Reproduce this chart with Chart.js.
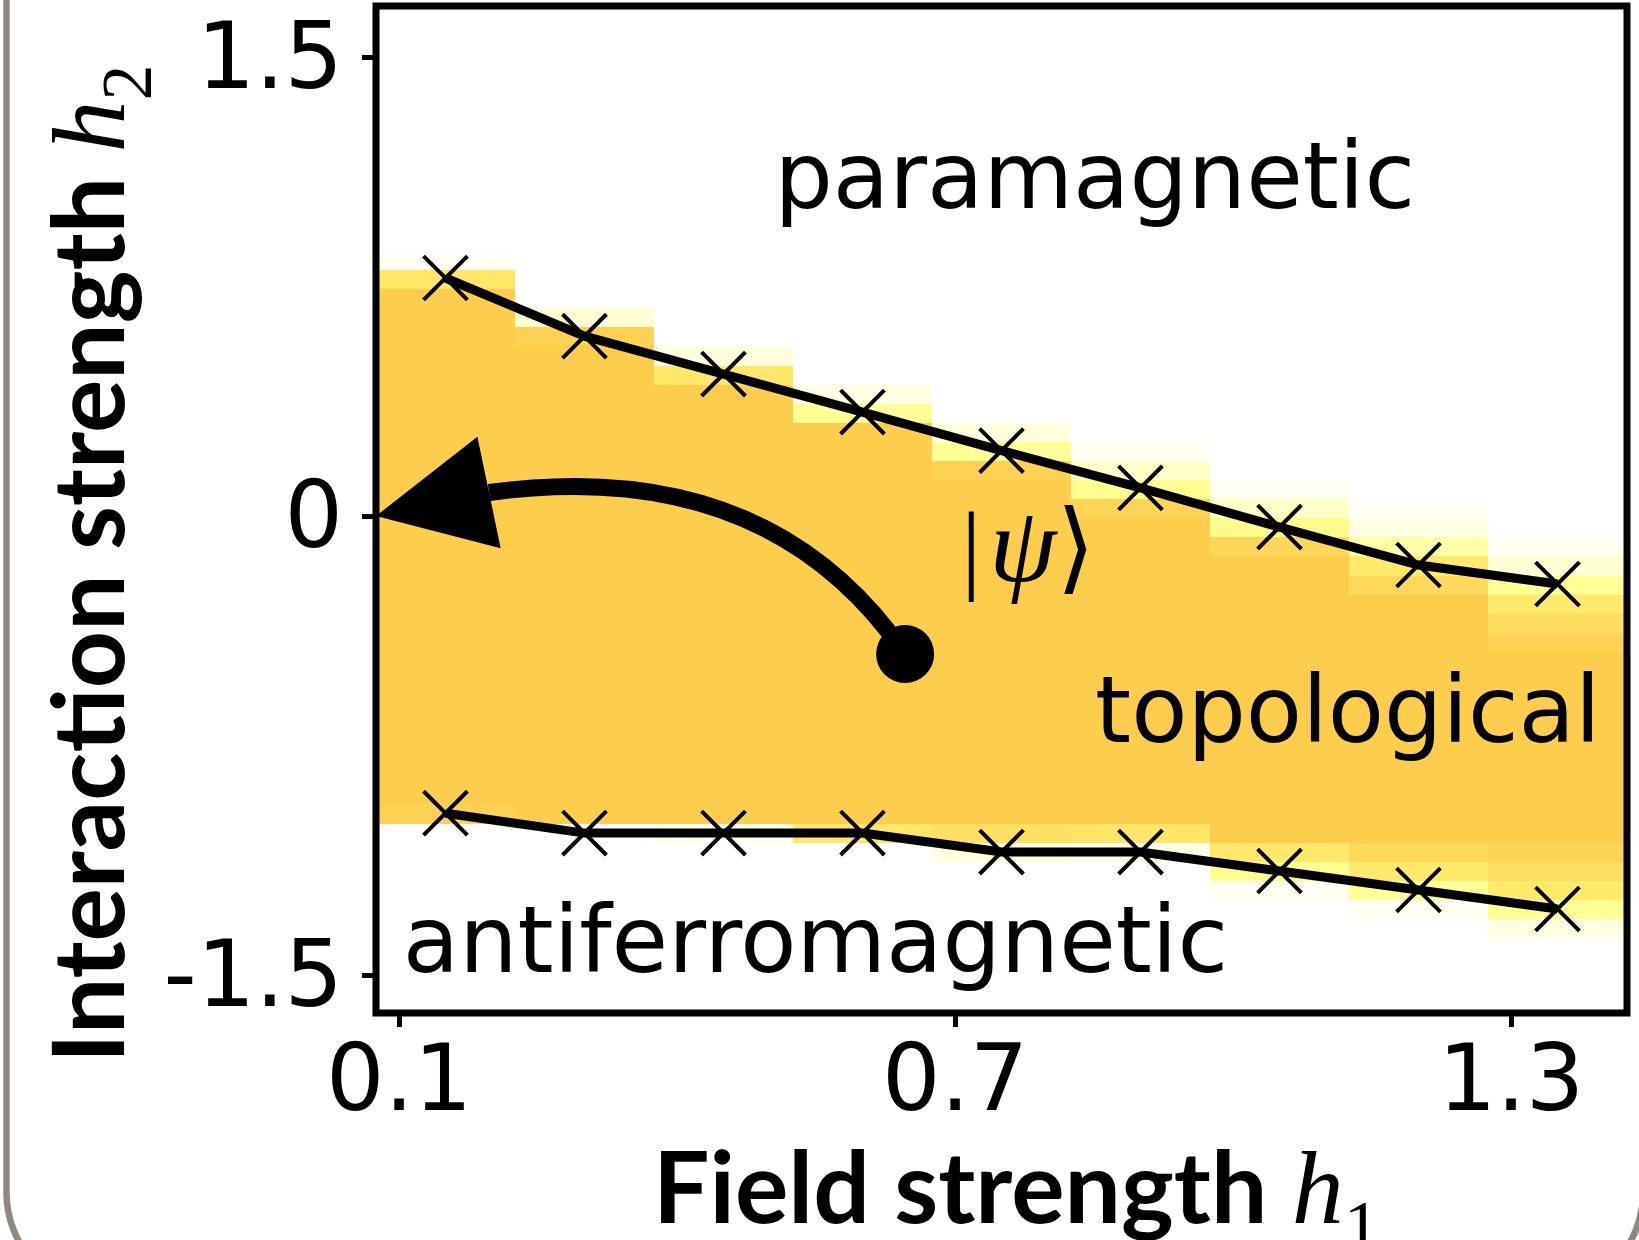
<!DOCTYPE html>
<html lang="en">
<head>
<meta charset="UTF-8">
<title>Phase diagram</title>
<script src="https://cdn.jsdelivr.net/npm/chart.js@4"></script>
<style>
    html, body { margin: 0; padding: 0; background: #fff; }
    #phaseChart { display: block; }
</style>
</head>
<body>
<canvas id="phaseChart" width="1639" height="1240"></canvas>
<script>
// values
const h1Values = [0.15, 0.30, 0.45, 0.60, 0.75, 0.90, 1.05, 1.20, 1.35];
const upperBoundary = [0.778, 0.588, 0.464, 0.340, 0.214, 0.092, -0.036, -0.160, -0.222];
const lowerBoundary = [-0.971, -1.036, -1.036, -1.036, -1.098, -1.098, -1.160, -1.222, -1.284];

const xTickValues = [0.1, 0.7, 1.3];
const xTickLabels = ['0.1', '0.7', '1.3'];
const yTickValues = [1.5, 0, -1.5];
const yTickLabels = ['1.5', '0', '-1.5'];

// heatmap grid: row k spans h2 from rowTop - k*rowStep down by one rowStep
const cellWidth = 0.15;
const rowTop = 0.804;
const rowStep = 0.0624;
// topological probability in the rows around each boundary (1 = full phase)
const upperStartRow = [-1, 2, 4, 6, 8, 9, 11, 12, 14];
const upperRamp = [
    [0.04, 0.6],
    [0.15, 0.93],
    [0.12, 0.6],
    [0.1, 0.35],
    [0.12, 0.35, 0.93],
    [0.05, 0.2, 0.38, 0.88],
    [0.05, 0.2, 0.4, 0.84],
    [0.04, 0.1, 0.3, 0.55, 0.8],
    [0.05, 0.15, 0.35, 0.55, 0.75, 0.9]
];
const lowerStartRow = [28, 29, 29, 29, 29, 29, 30, 30, 30];
const lowerRamp = [
    [0.92],
    [],
    [0.07],
    [0.6],
    [0.7, 0.12],
    [0.62, 0.1],
    [0.58, 0.38, 0.05],
    [0.8, 0.55, 0.35, 0.05],
    [0.9, 0.72, 0.55, 0.35, 0.1]
];

// state marker and arrow (h1, h2)
const stateH1 = 0.646;
const stateH2 = -0.451;
const arrowTipH1 = 0.075;
const arrowTipH2 = 0.0;
const arrowBendH1 = 0.469;
const arrowBendH2 = 0.327;

const regionLabels = ['paramagnetic', 'topological', 'antiferromagnetic'];
const regionLabelH1 = [0.505, 0.851, 0.104];
const regionLabelH2 = [1.007, -0.739, -1.490];
const psiLabelH1 = 0.7065;
const psiLabelH2 = -0.212;

// colour map white -> pale yellow -> orange
const cmapStops = [0, 0.05, 0.12, 0.2, 0.35, 0.55, 0.75, 0.9, 1];
const cmapColours = [
    [255, 255, 255], [255, 255, 242], [255, 255, 222], [255, 255, 200],
    [255, 255, 150], [255, 234, 108], [254, 220, 96], [253, 211, 85], [253, 205, 78]
];

function colourFor(v) {
    let i = 1;
    while (i < cmapStops.length - 1 && v > cmapStops[i]) i++;
    const t = (v - cmapStops[i - 1]) / (cmapStops[i] - cmapStops[i - 1]);
    const a = cmapColours[i - 1], b = cmapColours[i];
    const c = a.map((ch, j) => Math.round(ch + (b[j] - ch) * Math.max(0, Math.min(1, t))));
    return `rgb(${c[0]}, ${c[1]}, ${c[2]})`;
}

function columnCells(i) {
    const cells = [];
    upperRamp[i].forEach((v, j) => cells.push([upperStartRow[i] + j, v]));
    for (let k = upperStartRow[i] + upperRamp[i].length; k < lowerStartRow[i]; k++) cells.push([k, 1]);
    lowerRamp[i].forEach((v, j) => cells.push([lowerStartRow[i] + j, v]));
    return cells;
}

const heatmapPlugin = {
    id: 'heatmap',
    beforeDatasetsDraw(chart) {
        const { ctx, chartArea: a, scales: { x, y } } = chart;
        ctx.save();
        ctx.beginPath();
        ctx.rect(a.left, a.top, a.right - a.left, a.bottom - a.top);
        ctx.clip();
        h1Values.forEach((h1, i) => {
            const x0 = Math.round(x.getPixelForValue(h1 - cellWidth / 2));
            const x1 = Math.round(x.getPixelForValue(h1 + cellWidth / 2));
            columnCells(i).forEach(([k, v]) => {
                const y0 = Math.round(y.getPixelForValue(rowTop - k * rowStep));
                const y1 = Math.round(y.getPixelForValue(rowTop - (k + 1) * rowStep));
                ctx.fillStyle = colourFor(v);
                ctx.fillRect(x0, y0, x1 - x0, y1 - y0);
            });
        });
        ctx.restore();
    }
};

function drawParts(ctx, parts) {
    let x = 0;
    parts.forEach(p => {
        ctx.font = p.font;
        x += p.dx || 0;
        ctx.fillText(p.text, x, p.dy || 0);
        x += ctx.measureText(p.text).width;
    });
}

function drawArrow(ctx, x, y) {
    const p0 = [x.getPixelForValue(stateH1), y.getPixelForValue(stateH2)];
    const c = [x.getPixelForValue(arrowBendH1), y.getPixelForValue(arrowBendH2)];
    const p2 = [x.getPixelForValue(arrowTipH1), y.getPixelForValue(arrowTipH2)];
    const headLength = 115, headHalf = 57;
    const at = t => [
        (1 - t) * (1 - t) * p0[0] + 2 * t * (1 - t) * c[0] + t * t * p2[0],
        (1 - t) * (1 - t) * p0[1] + 2 * t * (1 - t) * c[1] + t * t * p2[1]
    ];
    // find where the shaft meets the back of the head
    let t = 1;
    while (t > 0) {
        const p = at(t);
        if (Math.hypot(p2[0] - p[0], p2[1] - p[1]) >= headLength) break;
        t -= 0.002;
    }
    const q = [p0[0] + (c[0] - p0[0]) * t, p0[1] + (c[1] - p0[1]) * t];
    const end = at(t);
    ctx.save();
    ctx.strokeStyle = '#000';
    ctx.lineWidth = 17;
    ctx.lineCap = 'butt';
    ctx.beginPath();
    ctx.moveTo(p0[0], p0[1]);
    ctx.quadraticCurveTo(q[0], q[1], end[0], end[1]);
    ctx.stroke();
    const len = Math.hypot(p2[0] - end[0], p2[1] - end[1]);
    const ux = (p2[0] - end[0]) / len, uy = (p2[1] - end[1]) / len;
    ctx.fillStyle = '#000';
    ctx.beginPath();
    ctx.moveTo(p2[0], p2[1]);
    ctx.lineTo(end[0] - uy * headHalf, end[1] + ux * headHalf);
    ctx.lineTo(end[0] + uy * headHalf, end[1] - ux * headHalf);
    ctx.closePath();
    ctx.fill();
    ctx.restore();
}

const overlayPlugin = {
    id: 'overlay',
    afterDatasetsDraw(chart) {
        const { ctx, chartArea: a, scales: { x, y } } = chart;
        drawArrow(ctx, x, y);

        ctx.save();
        ctx.fillStyle = '#000';
        ctx.textAlign = 'left';
        ctx.textBaseline = 'alphabetic';
        ctx.font = '92px "DejaVu Sans"';
        regionLabels.forEach((txt, i) => {
            ctx.fillText(txt, x.getPixelForValue(regionLabelH1[i]), y.getPixelForValue(regionLabelH2[i]));
        });
        ctx.translate(x.getPixelForValue(psiLabelH1), y.getPixelForValue(psiLabelH2));
        drawParts(ctx, [
            { text: '|', font: '100px "Liberation Serif"' },
            { text: 'ψ', font: 'italic 108px "Liberation Serif"', dx: 8 },
            { text: '⟩', font: '100px "DejaVu Serif"', dx: 0 }
        ]);
        ctx.restore();

        // axes frame
        ctx.save();
        ctx.strokeStyle = '#000';
        ctx.lineWidth = 7;
        ctx.strokeRect(a.left, a.top, a.right - a.left, a.bottom - a.top);
        ctx.restore();
    },
    afterDraw(chart) {
        const { ctx, chartArea: a } = chart;
        ctx.save();
        ctx.fillStyle = '#000';
        ctx.textAlign = 'left';
        ctx.textBaseline = 'alphabetic';
        ctx.save();
        ctx.translate(a.left + 277, a.bottom + 210);
        drawParts(ctx, [
            { text: 'Field strength ', font: 'bold 100px Lato' },
            { text: 'h', font: 'italic 104px "Liberation Serif"' },
            { text: '1', font: '72px "Liberation Serif"', dy: 27 }
        ]);
        ctx.restore();
        ctx.save();
        ctx.translate(124, a.bottom + 50);
        ctx.rotate(-Math.PI / 2);
        drawParts(ctx, [
            { text: 'Interaction strength ', font: 'bold 100px Lato' },
            { text: 'h', font: 'italic 104px "Liberation Serif"' },
            { text: '2', font: '72px "Liberation Serif"', dy: 27 }
        ]);
        ctx.restore();

        // rounded panel border of the surrounding figure
        ctx.strokeStyle = '#8e8880';
        ctx.lineWidth = 6.5;
        ctx.beginPath();
        ctx.roundRect(6.5, -200, 1636.5, 1493, 100);
        ctx.stroke();
        ctx.restore();
    }
};

function tickLabel(values, labels) {
    return v => {
        const i = values.findIndex(t => Math.abs(t - v) < 1e-9);
        return i >= 0 ? labels[i] : '';
    };
}

const tickFont = { family: 'DejaVu Sans', size: 92 };

function boundaryDataset(values) {
    return {
        data: h1Values.map((h1, i) => ({ x: h1, y: values[i] })),
        borderColor: '#000',
        borderWidth: 9,
        pointStyle: 'crossRot',
        pointRadius: 31,
        pointBorderWidth: 4,
        pointBorderColor: '#000',
        fill: false,
        tension: 0
    };
}

new Chart(document.getElementById('phaseChart'), {
    type: 'line',
    data: {
        datasets: [
            boundaryDataset(upperBoundary),
            boundaryDataset(lowerBoundary),
            {
                data: [{ x: stateH1, y: stateH2 }],
                showLine: false,
                pointStyle: 'circle',
                pointRadius: 29,
                pointBorderWidth: 0,
                pointBackgroundColor: '#000'
            }
        ]
    },
    options: {
        responsive: false,
        animation: false,
        events: [],
        layout: { autoPadding: false, padding: { top: 6, right: 12, left: 0, bottom: 0 } },
        plugins: { legend: { display: false }, tooltip: { enabled: false } },
        scales: {
            x: {
                type: 'linear',
                min: 0.075,
                max: 1.425,
                afterBuildTicks: s => { s.ticks = xTickValues.map(v => ({ value: v })); },
                afterFit: s => { s.height = 227; s.paddingLeft = 0; s.paddingRight = 0; },
                ticks: {
                    callback: tickLabel(xTickValues, xTickLabels),
                    font: tickFont,
                    color: '#000',
                    padding: 4,
                    maxRotation: 0,
                    autoSkip: false
                },
                grid: { drawOnChartArea: false, tickLength: 14, tickWidth: 5, tickColor: '#000' },
                border: { display: false }
            },
            y: {
                type: 'linear',
                min: -1.624,
                max: 1.667,
                afterBuildTicks: s => { s.ticks = yTickValues.map(v => ({ value: v })); },
                afterFit: s => { s.width = 376; s.paddingTop = 0; s.paddingBottom = 0; },
                ticks: {
                    callback: tickLabel(yTickValues, yTickLabels),
                    font: tickFont,
                    color: '#000',
                    padding: 19,
                    labelOffset: 7,
                    autoSkip: false
                },
                grid: { drawOnChartArea: false, tickLength: 14, tickWidth: 5, tickColor: '#000' },
                border: { display: false }
            }
        }
    },
    plugins: [heatmapPlugin, overlayPlugin]
});
</script>
</body>
</html>
